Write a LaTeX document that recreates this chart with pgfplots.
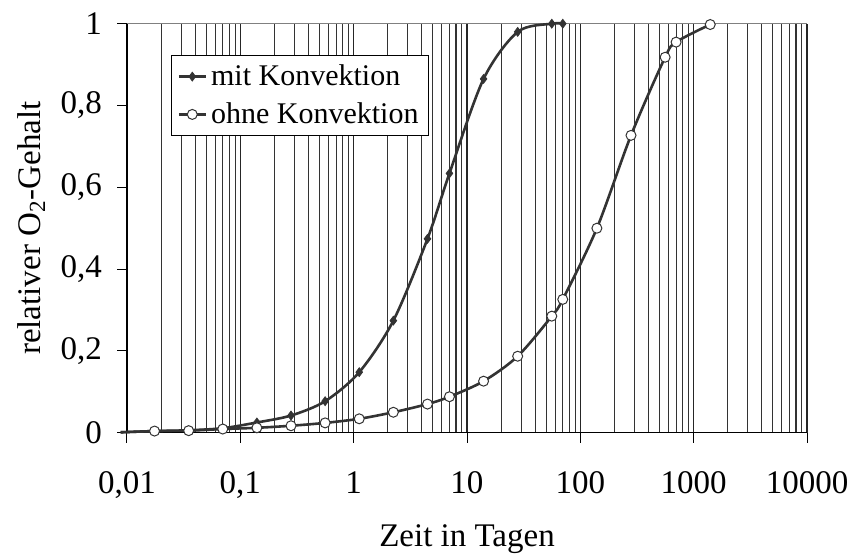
\documentclass[border=0pt]{standalone}
\usepackage{fontspec}
\setmainfont{Liberation Serif}
\usepackage{pgfplots}
\pgfplotsset{compat=1.18}
\usetikzlibrary{calc}
\definecolor{serie}{HTML}{333333}
\begin{document}
\begin{tikzpicture}
\begin{axis}[
  name=ax,
  scale only axis, width=340pt, height=204.5pt,
  xmode=log, xmin=0.01, xmax=10000, ymin=0, ymax=1,
  clip=false,
  axis x line=bottom, axis y line=left,
  axis line style={-, black, line width=0.6pt},
  tick align=outside, major tick length=5pt, minor tick length=0pt,
  tick style={black, line width=0.5pt},
  xtick={0.01,0.1,1,10,100,1000,10000},
  xticklabels={{0,01},{0,1},1,10,100,1000,10000},
  minor xtick={0.02,0.03,0.04,0.05,0.06,0.07,0.08,0.09,
               0.2,0.3,0.4,0.5,0.6,0.7,0.8,0.9,
               2,3,4,5,6,7,8,9,
               20,30,40,50,60,70,80,90,
               200,300,400,500,600,700,800,900,
               2000,3000,4000,5000,6000,7000,8000,9000},
  xmajorgrids, xminorgrids,
  major grid style={black!85, line width=0.55pt},
  minor grid style={black!80, line width=0.55pt},
  ytick={0,0.2,0.4,0.6,0.8,1},
  yticklabels={0,{0,2},{0,4},{0,6},{0,8},1},
  ticklabel style={font=\fontsize{16.5}{18}\selectfont},
  xticklabel style={yshift=-11pt},
  yticklabel style={xshift=-4pt},
  label style={font=\fontsize{16.5}{18}\selectfont},
  xlabel={Zeit in Tagen},
  xlabel style={at={(axis description cs:0.5,-0.2787)}, anchor=base},
  ylabel={relativer O\textsubscript{2}-Gehalt},
  ylabel style={at={(axis description cs:-0.1279,0.5)}, anchor=base},
  legend cell align=left,
  legend style={at={(axis description cs:0.0647,0.923)}, anchor=north west,
    draw=black, line width=0.5pt, fill=white,
    font=\fontsize{15}{17}\selectfont,
    inner xsep=3pt, inner ysep=2.5pt, row sep=3pt},
  legend image code/.code={\draw[#1, mark indices={2}]
     plot coordinates {(0pt,0pt) (6.75pt,0pt) (13.5pt,0pt)};},
]
\draw[gray, line width=0.6pt] (rel axis cs:0,1) -- (rel axis cs:1,1);

\addplot[serie, line width=1.3pt, smooth, mark=diamond*, mark size=2.2pt,
  mark options={fill=serie, draw=serie, line width=0.4pt, solid},
  mark indices={2,3,4,5,6,7,8,9,10,11,12,13,14,15}]
coordinates {
 (0.0088,0.001) (0.0175,0.004) (0.035,0.006) (0.07,0.011) (0.14,0.025)
 (0.28,0.042) (0.56,0.077) (1.12,0.148) (2.24,0.274) (4.48,0.474)
 (7,0.634) (14,0.865) (28,0.98) (56,1.0) (70,1.0)
};
\addlegendentry{mit Konvektion}

\addplot[serie, line width=1.3pt, smooth, mark=*, mark size=2.5pt,
  mark options={fill=white, draw=serie, line width=0.5pt, solid},
  mark indices={2,3,4,5,6,7,8,9,10,11,12,13,14,15,16,17,18,19,20}]
coordinates {
 (0.0088,0.001) (0.0175,0.004) (0.035,0.005) (0.07,0.009) (0.14,0.012)
 (0.28,0.017) (0.56,0.024) (1.12,0.034) (2.24,0.05) (4.48,0.07)
 (7,0.088) (14,0.126) (28,0.187) (56,0.285) (70,0.326)
 (140,0.50) (280,0.727) (560,0.918) (700,0.955) (1400,0.998)
};
\addlegendentry{ohne Konvektion}
\end{axis}
\pgfresetboundingbox
\path[use as bounding box] ($(ax.south west)+(-63.5pt,-60.15pt)$) rectangle ($(ax.south west)+(362pt,216.35pt)$);
\end{tikzpicture}
\end{document}
